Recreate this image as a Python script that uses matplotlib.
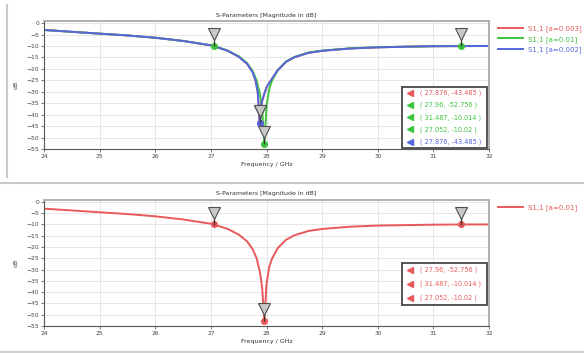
import matplotlib.pyplot as plt
from matplotlib.patches import Rectangle
from matplotlib.transforms import offset_copy

# S11 curves (GHz, dB)
freq_a01 = [24.0, 24.5, 25.0, 25.5, 26.0, 26.5, 27.0, 27.052, 27.3, 27.5,
            27.65, 27.75, 27.82, 27.88, 27.92, 27.96, 28.0, 28.05, 28.1,
            28.2, 28.35, 28.5, 28.75, 29.0, 29.5, 30.0, 30.5, 31.0, 31.487,
            32.0]
db_a01 = [-3.0, -3.8, -4.6, -5.4, -6.4, -7.8, -9.7, -10.02, -12.0, -14.5,
          -17.5, -21.0, -25.0, -31.0, -38.0, -52.756, -36.0, -28.5, -25.0,
          -20.5, -16.8, -14.8, -12.9, -12.0, -11.0, -10.5, -10.3, -10.1,
          -10.014, -10.0]

freq_a002 = [24.0, 24.5, 25.0, 25.5, 26.0, 26.5, 27.0, 27.052, 27.3, 27.5,
             27.65, 27.75, 27.8, 27.84, 27.876, 27.91, 27.95, 28.0, 28.05,
             28.1, 28.2, 28.35, 28.5, 28.75, 29.0, 29.5, 30.0, 30.5, 31.0,
             31.487, 32.0]
db_a002 = [-3.0, -3.8, -4.6, -5.4, -6.4, -7.8, -9.7, -10.02, -12.1, -14.7,
           -17.8, -21.5, -25.0, -30.0, -43.485, -35.0, -31.5, -28.0, -26.0,
           -24.2, -20.6, -16.9, -14.9, -13.0, -12.1, -11.1, -10.6, -10.3,
           -10.1, -10.05, -10.0]
db_a003 = db_a002

# marker readouts (freq, dB)
mk_red = [(27.876, -43.485)]
mk_green = [(27.96, -52.756), (31.487, -10.014), (27.052, -10.02)]
mk_blue = [(27.876, -43.485)]

RED = '#e8595a'
GREEN = '#3cc43c'
BLUE = '#5566dd'


def style_axes(ax):
    ax.set_xlim(24, 32)
    ax.set_ylim(-55, 1)
    ax.set_xticks(range(24, 33))
    ax.set_yticks(range(0, -56, -5))
    ax.grid(True, color='#e3e3e3', lw=0.6)
    ax.tick_params(labelsize=4.3, length=2, width=0.5, colors='#444444',
                   pad=1.5)
    for s in ['top', 'right']:
        ax.spines[s].set_color('#b0b0b0')
        ax.spines[s].set_linewidth(1.4)
    for s in ['left', 'bottom']:
        ax.spines[s].set_color('#555555')
        ax.spines[s].set_linewidth(0.8)
    ax.set_title('S-Parameters [Magnitude in dB]', fontsize=4.5,
                 color='#333333', pad=3)
    ax.set_xlabel('Frequency / GHz', fontsize=4.5, color='#333333',
                  labelpad=2)
    ax.set_ylabel('dB', fontsize=4.5, color='#333333', labelpad=6)


def draw_markers(ax, fig, pts, color):
    up = offset_copy(ax.transData, fig=fig, y=8.5, units='points')
    for f, d in pts:
        ax.plot([f, f], [d, d], marker='o', ms=3.8, color=color, zorder=5)
        ax.plot([f], [d], marker='|', ms=7, color='#333333', mew=0.9,
                transform=offset_copy(ax.transData, fig=fig, y=3.5,
                                      units='points'), zorder=5)
        ax.plot([f], [d], marker='v', ms=9, mfc='#c8c8c8', mec='#505050',
                mew=0.8, transform=up, zorder=6)


def readout_box(ax, x0, y0, x1, y1, entries):
    ax.add_patch(Rectangle((x0, y0), x1 - x0, y1 - y0,
                           transform=ax.transAxes, fc='white',
                           ec='#555555', lw=1.4, zorder=7))
    n = len(entries)
    step = (y1 - y0) / n
    for i, (txt, c) in enumerate(entries):
        y = y1 - step * (i + 0.5)
        ax.plot([x0 + 0.018], [y], marker='<', ms=4, color=c,
                transform=ax.transAxes, zorder=8, clip_on=False)
        ax.text(x0 + 0.04, y, txt, color=c, fontsize=4.7,
                transform=ax.transAxes, va='center', zorder=8)


fig = plt.figure(figsize=(5.84, 3.53), dpi=100)
fig.patch.set_facecolor('white')

# panel frames
fig.add_artist(plt.Line2D([0.012, 0.012], [0.5, 0.985],
                          color='#c8c8c8', lw=1.5))
fig.add_artist(plt.Line2D([0.0, 1.0], [0.482, 0.482],
                          color='#c8c8c8', lw=1.5))
fig.add_artist(plt.Line2D([0.0, 1.0], [0.004, 0.004],
                          color='#d0d0d0', lw=1.5))

ax1 = fig.add_axes([0.0755, 0.578, 0.762, 0.363])
ax1.plot(freq_a002, db_a003, color=RED, lw=1.4, label='S1,1 [a=0.003]')
ax1.plot(freq_a01, db_a01, color=GREEN, lw=1.4, label='S1,1 [a=0.01]')
ax1.plot(freq_a002, db_a002, color=BLUE, lw=1.4, label='S1,1 [a=0.002]')
style_axes(ax1)
draw_markers(ax1, fig, mk_red, RED)
draw_markers(ax1, fig, mk_green, GREEN)
draw_markers(ax1, fig, mk_blue, BLUE)
ax1.legend(loc='upper left', bbox_to_anchor=(1.01, 1.0), frameon=False,
           fontsize=5, handlelength=3.5, labelcolor='linecolor',
           borderaxespad=0.3)
box1 = [('( %s, %s )' % p, RED) for p in mk_red] + \
       [('( %s, %s )' % p, GREEN) for p in mk_green] + \
       [('( %s, %s )' % p, BLUE) for p in mk_blue]
readout_box(ax1, 0.805, 0.01, 0.995, 0.485, box1)

ax2 = fig.add_axes([0.0755, 0.0765, 0.762, 0.358])
ax2.plot(freq_a01, db_a01, color=RED, lw=1.4, label='S1,1 [a=0.01]')
style_axes(ax2)
draw_markers(ax2, fig, mk_green, RED)
ax2.legend(loc='upper left', bbox_to_anchor=(1.01, 1.0), frameon=False,
           fontsize=5, handlelength=3.5, labelcolor='linecolor',
           borderaxespad=0.3)
box2 = [('( %s, %s )' % p, RED) for p in mk_green]
readout_box(ax2, 0.805, 0.17, 0.995, 0.5, box2)

fig.savefig('out.png', dpi=100, facecolor='white')
